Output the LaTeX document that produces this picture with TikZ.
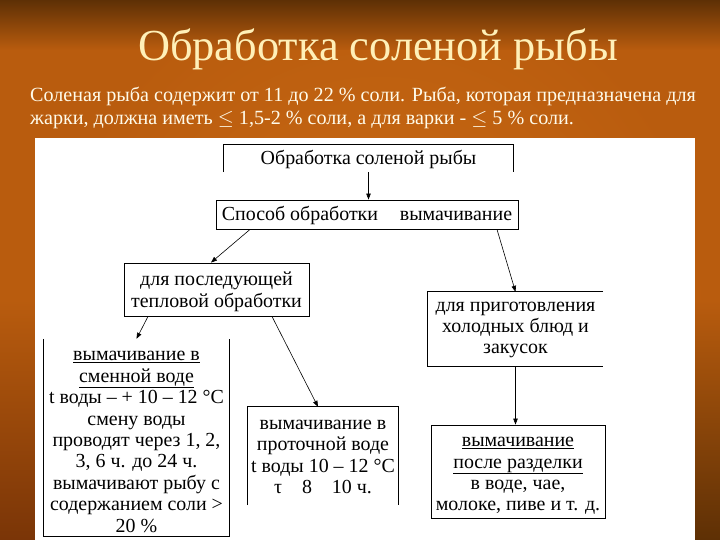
\documentclass[tikz,border=0pt]{standalone}
\usepackage{fontspec}
\setmainfont{Liberation Serif}
\usetikzlibrary{arrows.meta,calc}
\definecolor{bgor}{HTML}{B95C0E}
\definecolor{bglight}{HTML}{CA6A14}
\definecolor{bgdark}{HTML}{5E3005}
\definecolor{bgdeep}{HTML}{7A3507}
\definecolor{titlecol}{HTML}{FFF0B8}
\definecolor{bodycol}{HTML}{FFFBEA}
\tikzset{
  boxtext/.style={inner sep=0pt, align=center, font=\fontsize{20}{21.5}\selectfont, text=black},
  framed/.style={draw, line width=0.9bp, inner sep=0pt},
  blank/.style={inner sep=0pt},
  edge/.style={line width=0.6bp, -{Triangle[length=6bp,width=4.5bp]}},
  side/.style={line width=0.9bp},
  bodyline/.style={font=\fontsize{20.2}{22}\selectfont, text=bodycol, anchor=base west, inner sep=0pt},
}
\begin{document}
\begin{tikzpicture}[x=1bp,y=-1bp]
\useasboundingbox (0,0) rectangle (720,540);
% background
\fill[bgor] (0,0) rectangle (720,540);
\shade[inner color=bglight, outer color=bgor] (380,300) circle (330);
\shade[top color=bgdark, bottom color=bgor] (0,0) rectangle (720,50);
\shade[top color=bgor, bottom color=bgdeep] (0,300) rectangle (35,540);
\shade[top color=bgor, bottom color=bgdark] (695,300) rectangle (720,540);
% white panel
\fill[white] (35,138) rectangle (695,540);
% title and text
\node[font=\fontsize{44.5}{50}\selectfont, text=titlecol, anchor=base, inner sep=0pt] (title) at (378,61) {Обработка соленой рыбы};
\node[bodyline] (line1) at (30,102) {Соленая рыба содержит от 11 до 22~\% соли. Рыба, которая предназначена для};
\node[bodyline] (line2) at (30,125) {жарки, должна иметь \(\le\)~1,5-2~\% соли, а для варки - \(\le\)~5~\% соли.};
% box frames (named nodes)
\node[blank, minimum width=289bp, minimum height=27bp] (b1) at (368.5,158.5) {};
\node[framed, minimum width=302bp, minimum height=29bp] (b2) at (367,214.5) {};
\node[framed, minimum width=185bp, minimum height=53bp] (b3) at (216.5,289.5) {};
\node[blank, minimum width=185bp, minimum height=197bp] (b4) at (136.5,437.5) {};
\node[blank, minimum width=150bp, minimum height=98bp] (b5) at (323,456) {};
\node[blank, minimum width=175bp, minimum height=74bp] (b6) at (515.5,329) {};
\node[framed, minimum width=174bp, minimum height=93bp] (b7) at (518,471.5) {};
% box texts
\node[boxtext] (t1) at (368.5,159) {Обработка соленой рыбы};
\node[boxtext] (t2) at (367,215.5) {Способ обработки\hspace{1.1em}вымачивание};
\node[boxtext] (t3) at (216.5,292) {для последующей\\тепловой обработки};
\node[boxtext] (t4) at (136.5,442) {\underline{вымачивание в}\\\underline{сменной воде}\\t воды – + 10 – 12 °С\\смену воды\\проводят через 1, 2,\\3, 6 ч. до 24 ч.\\вымачивают рыбу с\\содержанием соли >\\20 \%};
\node[boxtext] (t5) at (323,457) {вымачивание в\\проточной воде\\t воды 10 – 12 °С\\τ\quad 8\quad 10 ч.};
\node[boxtext] (t6) at (515.5,330) {для приготовления\\холодных блюд и\\закусок};
\node[boxtext] (t7) at (518,476) {\underline{вымачивание}\\\underline{после разделки}\\в воде, чае,\\молоке, пиве и т. д.};
% partial frames
\draw[side] (b1.south west) -- (b1.north west) -- (b1.north east) -- (b1.south east);
\draw[side] (b4.north west) -- (b4.south west) -- (b4.south east) -- (b4.north east);
\draw[side] (b5.south west) -- (b5.north west) -- (b5.north east) -- (b5.south east);
\draw[side] (b6.north east) -- (b6.north west) -- (b6.south west) -- (b6.south east);
% connectors
\draw[edge] (b1.south) -- (b1.south |- b2.north);
\draw[edge] ([xshift=-117bp]b2.south) -- ([xshift=-5.5bp]b3.north);
\draw[edge] ([xshift=130bp]b2.south) -- (b6.north);
\draw[edge] ([xshift=-68.5bp]b3.south) -- (b4.north);
\draw[edge] ([xshift=55.5bp]b3.south) -- ([xshift=-5bp]b5.north);
\draw[edge] (b6.south) -- (b6.south |- b7.north);
\end{tikzpicture}
\end{document}
